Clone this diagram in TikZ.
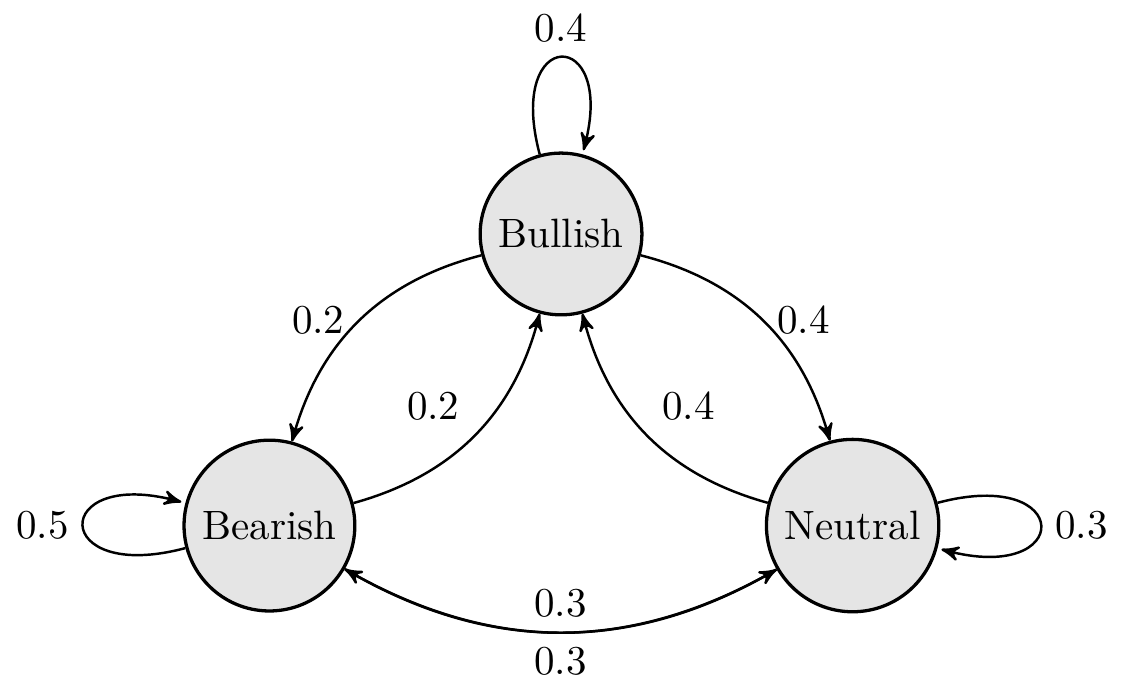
\documentclass[tikz,border=0pt]{standalone}
\usepackage{amsmath}
\usetikzlibrary{arrows}
\tikzstyle{regime}=[circle, draw, thick, fill=gray!20]
\tikzstyle{markov}=[->, >=stealth', semithick]

\begin{document}
\begin{tikzpicture}[markov]
        \useasboundingbox (-4.81, -3.90) rectangle (4.835, 2.006);
        \node[regime] (bull) at (0, 0) {Bullish};
        \node[regime] (bear) at (-2.5, -2.5) {Bearish};
        \node[regime] (neut) at (2.5, -2.5) {Neutral};
        \draw (bull) edge[loop above] node[above] {0.4} (bull);
        \draw (bear) edge[loop left] node[left] {0.5} (bear);
        \draw (neut) edge[loop right] node[right] {0.3} (neut);
        \draw (bull) edge[bend right=30] node[left] {0.2} (bear);
        \draw (bear) edge[bend right=30] node[above left] {0.2} (bull);
        \draw (bull) edge[bend left=30] node[right] {0.4} (neut);
        \draw (neut) edge[bend left=30] node[above right] {0.4} (bull);
        \draw (bear) edge[bend right=30] node[above] {0.3} (neut);
        \draw (neut) edge[bend left=30] node[below] {0.3} (bear);
    \end{tikzpicture}
\end{document}
